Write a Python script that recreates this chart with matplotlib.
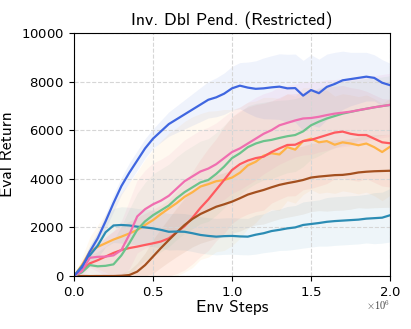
import numpy as np
import matplotlib
matplotlib.use('Agg')
import matplotlib.pyplot as plt

plt.rcParams['mathtext.fontset'] = 'cm'
plt.rcParams['axes.formatter.use_mathtext'] = True

# env steps (millions)
steps = [0, 0.05, 0.1, 0.15, 0.2, 0.25, 0.3, 0.35, 0.4, 0.45, 0.5, 0.55, 0.6, 0.65, 0.7,
         0.75, 0.8, 0.85, 0.9, 0.95, 1.0, 1.05, 1.1, 1.15, 1.2, 1.25, 1.3, 1.35, 1.4, 1.45,
         1.5, 1.55, 1.6, 1.65, 1.7, 1.75, 1.8, 1.85, 1.9, 1.95, 2.0]

blue = [0, 350, 1000, 1550, 2250, 3000, 3700, 4250, 4750, 5250, 5650, 5950, 6250, 6450, 6650,
        6850, 7050, 7250, 7350, 7500, 7720, 7830, 7750, 7700, 7720, 7760, 7790, 7720, 7730, 7420,
        7650, 7520, 7780, 7900, 8050, 8100, 8150, 8200, 8150, 7950, 7850]
pink = [0, 200, 750, 790, 800, 850, 1070, 1700, 2450, 2750, 2950, 3100, 3300, 3600, 3900,
        4100, 4300, 4420, 4600, 4850, 5100, 5250, 5450, 5650, 5850, 6000, 6200, 6300, 6400, 6480,
        6500, 6550, 6620, 6680, 6720, 6760, 6820, 6880, 6940, 6990, 7040]
green = [0, 150, 450, 400, 420, 480, 850, 1350, 1900, 2250, 2500, 2700, 2900, 3200, 3450,
         3650, 3850, 3950, 4200, 4500, 4850, 5050, 5300, 5450, 5550, 5600, 5680, 5750, 5800, 5950,
         6200, 6350, 6480, 6580, 6680, 6750, 6820, 6880, 6940, 6990, 7040]
red = [0, 200, 520, 650, 800, 950, 1070, 1150, 1210, 1280, 1345, 1420, 1550, 1800, 2050,
       2400, 2800, 3150, 3550, 3950, 4360, 4600, 4750, 4850, 4910, 5100, 5250, 5390, 5400, 5550,
       5600, 5700, 5800, 5900, 5940, 5850, 5800, 5800, 5650, 5500, 5460]
orange = [0, 450, 1000, 1200, 1350, 1500, 1620, 1750, 1890, 2100, 2300, 2550, 2780, 3000, 3260,
          3450, 3680, 3780, 3900, 3950, 4050, 4250, 4550, 4700, 4950, 5050, 5000, 5300, 5200, 5550,
          5650, 5500, 5550, 5400, 5500, 5450, 5380, 5450, 5300, 5100, 5320]
brown = [0, 0, 0, 0, 0, 0, 10, 40, 180, 450, 800, 1150, 1480, 1800, 2100,
         2350, 2550, 2700, 2850, 2950, 3060, 3200, 3350, 3450, 3540, 3650, 3750, 3820, 3880, 3950,
         4050, 4090, 4120, 4150, 4160, 4200, 4260, 4290, 4310, 4320, 4330]
teal = [0, 400, 850, 1250, 1800, 2080, 2100, 2080, 2030, 2000, 1960, 1900, 1820, 1830, 1820,
        1760, 1690, 1650, 1620, 1640, 1650, 1630, 1620, 1700, 1760, 1850, 1900, 1960, 2000, 2100,
        2140, 2180, 2230, 2260, 2280, 2300, 2320, 2360, 2380, 2400, 2500]

# spread (half-width of shaded band)
blue_sd = [0, 150, 250, 300, 300, 350, 350, 400, 400, 400, 400, 450, 500, 550, 600,
           650, 700, 750, 800, 850, 900, 950, 1050, 1150, 1250, 1300, 1350, 1400, 1400, 1450,
           1450, 1400, 1350, 1300, 1200, 1100, 1050, 1000, 950, 950, 900]
pink_sd = [0, 200, 400, 600, 800, 1000, 1200, 1400, 1500, 1600, 1700, 1700, 1700, 1700, 1700,
           1700, 1700, 1700, 1700, 1700, 1700, 1700, 1700, 1700, 1650, 1600, 1600, 1550, 1500, 1500,
           1500, 1450, 1450, 1400, 1400, 1400, 1350, 1350, 1300, 1300, 1300]
green_sd = [0, 200, 400, 600, 800, 1000, 1200, 1400, 1500, 1600, 1700, 1700, 1700, 1700, 1700,
            1700, 1700, 1700, 1700, 1700, 1700, 1700, 1700, 1650, 1600, 1600, 1550, 1500, 1500, 1450,
            1400, 1400, 1350, 1300, 1300, 1300, 1250, 1250, 1200, 1200, 1200]
red_sd = [0, 200, 400, 600, 800, 900, 1000, 1100, 1200, 1300, 1400, 1500, 1600, 1700, 1800,
          1900, 2000, 2100, 2100, 2200, 2200, 2200, 2200, 2200, 2200, 2100, 2100, 2100, 2100, 2000,
          2000, 2000, 2000, 1900, 1900, 1900, 1900, 1800, 1800, 1800, 1800]
orange_sd = [0, 300, 600, 900, 1200, 1500, 1800, 2100, 2400, 2700, 2900, 3000, 3100, 3100, 3100,
             3100, 3000, 3000, 2900, 2900, 2800, 2700, 2600, 2500, 2400, 2300, 2300, 2200, 2200, 2200,
             2100, 2100, 2100, 2000, 2000, 2000, 2000, 2000, 2000, 2000, 2000]
brown_sd = [0, 0, 0, 0, 0, 50, 100, 200, 350, 500, 700, 800, 900, 1000, 1100,
            1150, 1200, 1250, 1300, 1300, 1300, 1350, 1350, 1350, 1400, 1400, 1400, 1400, 1400, 1400,
            1400, 1400, 1450, 1450, 1450, 1450, 1450, 1500, 1500, 1500, 1500]
teal_sd = [0, 200, 400, 500, 600, 700, 750, 750, 750, 750, 750, 750, 750, 750, 750,
           750, 750, 750, 750, 750, 750, 750, 750, 800, 800, 850, 850, 900, 900, 950,
           950, 950, 1000, 1000, 1000, 1000, 1000, 1000, 1050, 1050, 1100]

series = [
    (orange, orange_sd, '#FFB347'),
    (red, red_sd, '#FF5A5F'),
    (brown, brown_sd, '#A4501F'),
    (teal, teal_sd, '#2B8CB4'),
    (green, green_sd, '#6CC38C'),
    (pink, pink_sd, '#F06EB0'),
    (blue, blue_sd, '#3F66E0'),
]

x = np.array(steps) * 1e6

fig = plt.figure(figsize=(4.11, 3.29), dpi=100)
ax = fig.add_axes([0.18, 0.161, 0.769, 0.739])

for mean, sd, c in series:
    m = np.array(mean, dtype=float)
    s = np.array(sd, dtype=float)
    ax.fill_between(x, np.clip(m - s, 0, None), m + s, color=c, alpha=0.08, linewidth=0)
for mean, sd, c in series:
    ax.plot(x, mean, color=c, linewidth=1.6)

ax.set_xlim(0, 2.0e6)
ax.set_ylim(0, 10000)
ax.set_xticks([0, 0.5e6, 1.0e6, 1.5e6, 2.0e6])
ax.set_yticks([0, 2000, 4000, 6000, 8000, 10000])
ax.grid(True, linestyle='--', color='#d6d6d6', linewidth=0.8)
ax.tick_params(labelsize=9.5)

# scale note drawn by hand so it sits right under the last tick label
ax.xaxis.get_offset_text().set_visible(False)
ax.text(1.0, -0.118, r'$\times10^{6}$', transform=ax.transAxes, ha='right', va='center',
        fontsize=7.5, color='#444444')

ax.set_title('Inv. Dbl Pend. (Restricted)', fontfamily='cmss10', fontsize=12.8)
ax.set_xlabel('Env Steps', fontfamily='cmss10', fontsize=12.5, labelpad=1)
ax.set_ylabel('Eval Return', fontfamily='cmss10', fontsize=12.5)

fig.savefig('out.png', dpi=100)
